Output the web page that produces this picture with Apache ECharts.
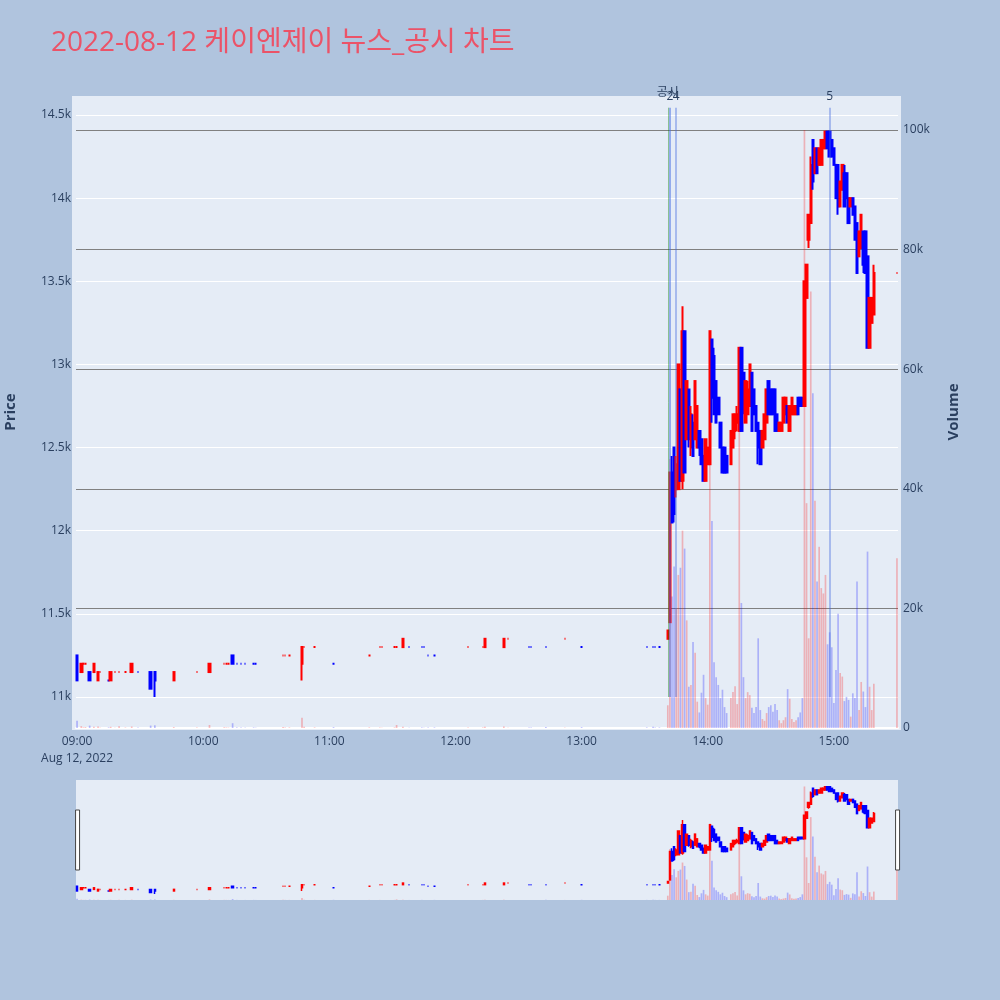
<!DOCTYPE html>
<html>
<head>
<meta charset="utf-8">
<title>케이엔제이 뉴스_공시 차트</title>
<script src="https://cdn.jsdelivr.net/npm/echarts@6/dist/echarts.min.js"></script>
<style>
  html, body { margin: 0; padding: 0; background: #B0C4DE; }
  #chart { width: 1000px; height: 1000px; }
</style>
</head>
<body>
<div id="chart"></div>
<script>
// 1-minute candles of 2022-08-12, only the minutes that traded
const tradeTimes = [
  '09:00','09:02','09:03','09:04','09:06','09:08','09:10','09:11','09:15','09:16',
  '09:18','09:20','09:23','09:26','09:29','09:35','09:37','09:46','09:57','10:03',
  '10:10','10:11','10:12','10:14','10:16','10:18','10:20','10:24','10:25','10:38',
  '10:39','10:41','10:47','10:48','10:53','11:02','11:19','11:24','11:25','11:31',
  '11:32','11:35','11:38','11:44','11:45','11:47','11:50','12:06','12:13','12:14',
  '12:23','12:25','12:35','12:36','12:43','12:52','13:00','13:31','13:34','13:35',
  '13:37',
  '13:41','13:42','13:43','13:44','13:45','13:46','13:47','13:48','13:49','13:50',
  '13:51','13:52','13:53','13:54','13:55','13:56','13:57','13:58','13:59','14:00',
  '14:01','14:02','14:03','14:04','14:05','14:06','14:07','14:08','14:09','14:11',
  '14:12','14:13','14:14','14:15','14:16','14:17','14:18','14:19','14:20','14:21',
  '14:22','14:23','14:24','14:25','14:26','14:27','14:28','14:29','14:30','14:31',
  '14:32','14:33','14:34','14:35','14:36','14:37','14:38','14:39','14:40','14:41',
  '14:42','14:43','14:44','14:45','14:46','14:47','14:48','14:49','14:50','14:51',
  '14:52','14:53','14:54','14:55','14:56','14:57','14:58','14:59','15:00','15:01',
  '15:02','15:03','15:04','15:05','15:06','15:07','15:08','15:09','15:10','15:11',
  '15:12','15:13','15:14','15:15','15:16','15:17','15:18','15:19','15:30'
];
const openPrices = [
  11250,11150,11200,11200,11150,11150,11100,11150,11100,11100,
  11150,11150,11150,11150,11150,11150,11150,11100,11150,11150,
  11200,11200,11200,11250,11200,11200,11200,11200,11200,11250,
  11250,11250,11200,11300,11300,11200,11250,11300,11300,11300,
  11300,11300,11300,11300,11300,11250,11250,11300,11300,11300,
  11300,11350,11300,11300,11300,11350,11300,11300,11300,11300,
  11300,
  11350,11450,12350,12500,12250,12250,12850,12300,13200,12550,
  12850,12500,12650,12550,12500,12600,12550,12450,12300,12400,
  12400,13150,13050,12900,12800,12650,12500,12500,12450,12400,
  12500,12600,12650,12600,13100,12950,12650,12700,12750,12950,
  12850,12750,12650,12600,12500,12550,12650,12900,12850,12850,
  12850,12700,12600,12600,12650,12700,12750,12600,12700,12700,
  12700,12800,12800,12800,12750,13400,13750,13850,14350,14150,
  14300,14200,14200,14300,14300,14400,14400,14350,14300,14200,
  14200,13950,14050,14150,14150,14000,13950,14000,13950,13850,
  13650,13700,13800,13800,13650,13100,13250,13300,13550
];
const closePrices = [
  11100,11200,11200,11200,11100,11200,11150,11150,11100,11150,
  11150,11150,11150,11200,11150,11050,11100,11150,11150,11200,
  11200,11200,11200,11200,11200,11200,11200,11200,11200,11250,
  11250,11250,11300,11300,11300,11200,11250,11300,11300,11300,
  11300,11350,11300,11300,11300,11250,11250,11300,11300,11350,
  11350,11350,11300,11300,11300,11350,11300,11300,11300,11300,
  11300,
  11400,12350,12050,12100,12400,13000,12300,13200,12350,12900,
  12550,12700,12450,12900,12750,12500,12400,12300,12550,12500,
  13200,12800,12700,12650,12700,12500,12350,12350,12350,12600,
  12700,12700,12700,13100,12600,12750,12900,12850,13000,12600,
  12700,12600,12500,12400,12600,12700,12850,12700,12700,12700,
  12600,12600,12650,12650,12800,12800,12650,12750,12800,12750,
  12750,12700,12750,12750,13500,13600,13900,14200,14100,14300,
  14150,14300,14350,14350,14400,14300,14250,14250,14200,14000,
  13950,14100,14200,13950,14000,13850,14000,13900,13750,13550,
  13800,13900,13600,13550,13100,13400,13400,13550,13550
];
const lowPrices = [
  11100,11150,11200,11200,11100,11150,11100,11150,11100,11100,
  11150,11150,11150,11150,11150,11050,11000,11100,11150,11150,
  11200,11200,11200,11200,11200,11200,11200,11200,11200,11250,
  11250,11250,11100,11300,11300,11200,11250,11300,11300,11300,
  11300,11300,11300,11300,11300,11250,11250,11300,11300,11300,
  11300,11350,11300,11300,11300,11350,11300,11300,11300,11300,
  11300,
  11350,11450,12050,12050,12200,12250,12300,12250,12350,12550,
  12500,12450,12450,12550,12500,12450,12400,12300,12300,12400,
  12400,12650,12700,12650,12700,12500,12350,12350,12350,12400,
  12500,12550,12600,12600,12600,12700,12650,12700,12750,12600,
  12700,12600,12400,12400,12500,12550,12650,12700,12700,12700,
  12600,12600,12600,12600,12650,12700,12650,12600,12700,12700,
  12700,12700,12750,12750,12750,13400,13700,13850,14050,14150,
  14150,14200,14200,14300,14300,14300,14250,14250,14200,14000,
  13900,13950,14050,13950,14000,13850,13950,13900,13750,13550,
  13650,13700,13550,13550,13100,13100,13250,13300,13550
];
const highPrices = [
  11250,11200,11200,11200,11150,11200,11150,11150,11100,11150,
  11150,11150,11150,11200,11150,11150,11150,11150,11150,11200,
  11200,11200,11200,11250,11200,11200,11200,11200,11200,11250,
  11250,11250,11300,11300,11300,11200,11250,11300,11300,11300,
  11300,11350,11300,11300,11300,11250,11250,11300,11300,11350,
  11350,11350,11300,11300,11300,11350,11300,11300,11300,11300,
  11300,
  11400,12350,12450,12500,12450,13000,12850,13350,13200,12900,
  12850,12750,12700,12900,12750,12600,12550,12450,12550,12500,
  13200,13150,13100,12900,12800,12650,12500,12500,12450,12600,
  12700,12700,12750,13100,13100,12950,12900,12900,13000,12950,
  12850,12750,12650,12600,12600,12700,12850,12900,12850,12850,
  12850,12700,12650,12650,12800,12800,12750,12750,12800,12750,
  12750,12800,12800,12800,13500,13600,13900,14250,14350,14300,
  14300,14300,14350,14350,14400,14400,14400,14350,14300,14200,
  14200,14100,14200,14200,14150,14000,14000,14000,13950,13850,
  13800,13900,13800,13800,13650,13400,13400,13600,13550
];
const volumes = [
  1200,300,100,150,400,200,250,50,100,200,
  60,300,80,250,100,400,450,150,100,500,
  120,80,60,800,100,80,60,100,50,150,
  80,100,1700,200,100,150,100,80,60,100,
  500,200,50,100,60,80,100,70,90,200,
  250,60,100,80,150,60,150,100,200,80,
  100,
  3800,45000,22000,27000,20000,25600,26800,33000,30000,18000,
  6900,7200,14400,12600,4400,2600,5900,8900,5000,3900,
  55000,34600,11000,8500,7200,5000,6400,3500,2500,5000,
  6000,7000,4000,63000,20900,8500,5000,6000,5500,3400,
  2500,3500,15000,3000,1500,1200,2500,3500,3800,2700,
  4000,3000,1300,800,1300,1800,6500,4900,1500,1000,
  1300,1800,2600,5000,100000,37600,15000,73000,56000,38000,
  24500,30300,23400,22500,25600,14000,16000,13500,4200,9700,
  19100,9200,8600,4500,5200,4700,1900,5800,5000,24500,
  3000,7700,6100,3500,29500,6900,3000,7400,28400
];

// news / disclosure markers
const newsTimes = ['13:41', '13:42', '13:45', '14:58'];
const newsLabels = ['공시', '2', '4', '5'];

const dateLabel = 'Aug 12, 2022';

const chart = echarts.init(document.getElementById('chart'));

const pad2 = n => String(n).padStart(2, '0');
const minuteCats = [];
for (let m = 9 * 60; m <= 15 * 60 + 30; m++) {
  minuteCats.push(pad2(Math.floor(m / 60)) + ':' + pad2(m % 60));
}

const UP = '#ff0000', DOWN = '#0000ff';
const UP_VOL = 'rgba(255,0,0,0.25)', DOWN_VOL = 'rgba(0,0,255,0.25)';
const txt = '#2a3f5f';
const fontFamily = '"Open Sans", "Noto Sans CJK KR", sans-serif';

// direction like plotly: equal open/close -> compare with previous close
const isUp = [];
tradeTimes.forEach((t, i) => {
  const o = openPrices[i], c = closePrices[i];
  let up;
  if (c !== o) up = c > o;
  else if (i === 0) up = false;
  else if (c !== closePrices[i - 1]) up = c > closePrices[i - 1];
  else up = isUp[i - 1];
  isUp.push(up);
});

const candleData = minuteCats.map(() => '-');
const volumeData = minuteCats.map(() => '-');
tradeTimes.forEach((t, i) => {
  const idx = minuteCats.indexOf(t);
  const col = isUp[i] ? UP : DOWN;
  candleData[idx] = {
    value: [openPrices[i], closePrices[i], lowPrices[i], highPrices[i]],
    itemStyle: { color: col, color0: col, borderColor: col, borderColor0: col, borderColorDoji: col }
  };
  volumeData[idx] = {
    value: volumes[i],
    itemStyle: { color: isUp[i] ? UP_VOL : DOWN_VOL }
  };
});

const newsTop = Math.max(...highPrices) * 1.01;
const newsBottom = Math.min(...lowPrices);
const newsLines = newsTimes.map((t, i) => {
  const disclosure = newsLabels[i] === '공시';
  return [
    {
      coord: [t, newsBottom],
      lineStyle: disclosure
        ? { color: 'rgba(0,128,0,0.4)', width: 1, type: 'solid' }
        : { color: 'rgba(65,105,225,0.5)', width: i === 1 ? 2 : 1.5, type: 'solid' },
      label: { formatter: newsLabels[i], distance: disclosure ? 9 : 5 }
    },
    { coord: [t, newsTop] }
  ];
});

const PRICE_MIN = 10813.6, PRICE_MAX = 14614.3, VOL_MAX = 105690;

const option = {
  animation: false,
  backgroundColor: '#B0C4DE',
  textStyle: { fontFamily: fontFamily },
  title: {
    text: '2022-08-12 케이엔제이 뉴스_공시 차트',
    left: 46,
    top: 24,
    textStyle: { color: '#EB5368', fontSize: 28, fontWeight: 'normal', fontFamily: fontFamily }
  },
  graphic: [{
    type: 'rect', z: -1, silent: true,
    shape: { x: 72, y: 96, width: 829, height: 634 },
    style: { fill: '#E5ECF6' }
  }],
  grid: [
    { left: 76, right: 102, top: 96, height: 632, containLabel: false, outerBoundsMode: 'none' },
    { left: 76, right: 102, top: 780, height: 120, show: true, backgroundColor: '#E5ECF6', borderWidth: 0,
      containLabel: false, outerBoundsMode: 'none' }
  ],
  xAxis: [
    {
      type: 'category', gridIndex: 0, data: minuteCats, boundaryGap: true,
      axisLine: { show: true, onZero: false, lineStyle: { color: '#ffffff', width: 2 } },
      axisTick: { show: false },
      splitLine: { show: false },
      axisLabel: {
        interval: (i, v) => v.endsWith(':00'),
        formatter: v => v === '09:00' ? v + '\n' + dateLabel : v,
        color: txt, fontSize: 12, lineHeight: 17, margin: 5
      }
    },
    { type: 'category', gridIndex: 1, data: minuteCats, boundaryGap: true, show: false }
  ],
  yAxis: [
    {
      type: 'value', gridIndex: 0, position: 'left',
      min: PRICE_MIN, max: PRICE_MAX, splitNumber: 8,
      name: 'Price', nameLocation: 'middle', nameGap: 58, nameRotate: 90,
      nameTextStyle: { color: txt, fontSize: 15, fontWeight: 'bold' },
      axisLine: { show: false }, axisTick: { show: false },
      axisLabel: {
        formatter: v => (v / 1000) + 'k',
        showMinLabel: false, showMaxLabel: false,
        color: txt, fontSize: 12, margin: 5
      },
      splitLine: { show: true, showMinLine: false, showMaxLine: false, lineStyle: { color: '#ffffff', width: 1 } }
    },
    {
      type: 'value', gridIndex: 0, position: 'right',
      min: 0, max: VOL_MAX, splitNumber: 5,
      name: 'Volume', nameLocation: 'middle', nameGap: 48, nameRotate: 90,
      nameTextStyle: { color: txt, fontSize: 15, fontWeight: 'bold' },
      axisLine: { show: false }, axisTick: { show: false },
      axisLabel: {
        formatter: v => v === 0 ? '0' : (v / 1000) + 'k',
        showMaxLabel: false,
        color: txt, fontSize: 12, margin: 5
      },
      splitLine: { show: true, showMinLine: false, showMaxLine: false, lineStyle: { color: '#808080', width: 1 } }
    },
    { type: 'value', gridIndex: 1, min: PRICE_MIN, max: PRICE_MAX, show: false },
    { type: 'value', gridIndex: 1, min: 0, max: VOL_MAX, show: false }
  ],
  dataZoom: [{
    type: 'slider', xAxisIndex: [0, 1], filterMode: 'none', start: 0, end: 100,
    left: 76, right: 102, top: 780, height: 120,
    backgroundColor: 'rgba(0,0,0,0)', borderColor: 'rgba(0,0,0,0)', fillerColor: 'rgba(0,0,0,0)',
    showDataShadow: false, showDetail: false, brushSelect: false, moveHandleSize: 0,
    handleIcon: 'path://M0,0H4V60H0Z', handleSize: '50%',
    handleStyle: { color: '#ffffff', borderColor: '#444444', borderWidth: 1 },
    emphasis: { handleStyle: { color: '#ffffff', borderColor: '#444444', borderWidth: 1 } }
  }],
  series: [
    {
      name: 'Price', type: 'candlestick', xAxisIndex: 0, yAxisIndex: 0,
      data: candleData, barWidth: 2, silent: true,
      itemStyle: { borderWidth: 2 },
      markLine: {
        silent: true, symbol: ['none', 'none'],
        label: { show: true, position: 'end', color: txt, fontSize: 12, fontFamily: fontFamily },
        data: newsLines
      }
    },
    {
      name: 'Volume', type: 'bar', xAxisIndex: 0, yAxisIndex: 1,
      data: volumeData, barWidth: '80%', silent: true
    },
    {
      type: 'candlestick', xAxisIndex: 1, yAxisIndex: 2,
      data: candleData, barWidth: 2, silent: true,
      itemStyle: { borderWidth: 1.5 }
    },
    {
      type: 'bar', xAxisIndex: 1, yAxisIndex: 3,
      data: volumeData, barWidth: '80%', silent: true
    }
  ]
};

chart.setOption(option);
window.addEventListener('resize', () => chart.resize());
</script>
</body>
</html>
